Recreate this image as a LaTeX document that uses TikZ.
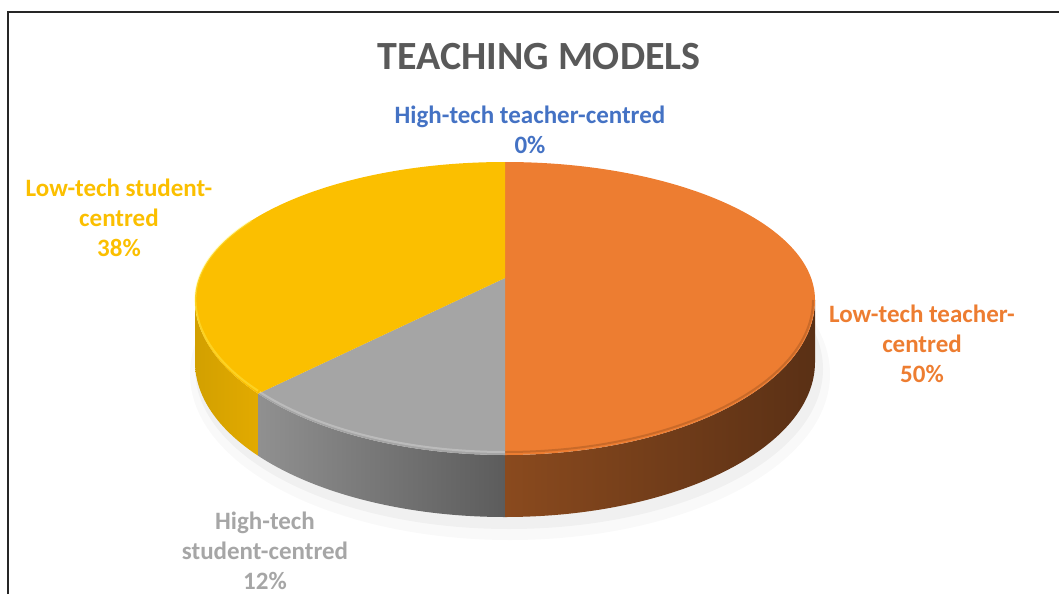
\documentclass[tikz,border=0pt]{standalone}
\usepackage{fontspec}
\setmainfont{Carlito}
\definecolor{orangeTop}{HTML}{ED7D31}
\definecolor{grayTop}{HTML}{A5A5A5}
\definecolor{yellowTop}{HTML}{FBBF00}
\definecolor{orangeSideL}{HTML}{8A4A1E}
\definecolor{orangeSideR}{HTML}{5A3015}
\definecolor{graySideL}{HTML}{909090}
\definecolor{graySideR}{HTML}{5C5C5C}
\definecolor{yellowSideL}{HTML}{D2A000}
\definecolor{yellowSideR}{HTML}{E2AA00}
\definecolor{titleGray}{HTML}{595959}
\definecolor{blueLbl}{HTML}{4472C4}
\definecolor{grayLbl}{HTML}{A6A6A6}
\begin{document}
\begin{tikzpicture}[x=1pt,y=-1pt,
  lbl/.style={font=\bfseries\fontsize{25}{30}\selectfont, align=center, anchor=base, inner sep=0pt},
  ttl/.style={font=\bfseries\fontsize{40}{48}\selectfont, text=titleGray, anchor=base, inner sep=0pt},
  rimL/.style={x radius=310, y radius=155},
  rimU/.style={x radius=310, y radius=138},
]
\useasboundingbox (0,0) rectangle (1059,594);
% frame
\draw[line width=2pt, black!85] (8,594) -- (8,12) -- (1059,12);
% title
\node[ttl] (title) at (539,69) {TEACHING MODELS};
% key points
\coordinate (apex) at (505,278);
\coordinate (top) at (505,162);
\coordinate (right) at (815,300);
\coordinate (left) at (195,300);
\coordinate (front) at (505,455);
\coordinate (split) at ([shift={(505,300)}]142.8:310 and 155);
% soft shadow
\fill[black, opacity=0.025] (510,374) ellipse [x radius=320, y radius=166];
\fill[black, opacity=0.035] (509,369) ellipse [x radius=314, y radius=160];
% sides
\shade[left color=yellowSideL, right color=yellowSideR]
  (split) arc[start angle=142.8, end angle=180, rimL] -- ++(0,62)
  arc[start angle=180, end angle=142.8, rimL] -- cycle;
\shade[left color=graySideL, right color=graySideR]
  (front) arc[start angle=90, end angle=142.8, rimL] -- ++(0,62)
  arc[start angle=142.8, end angle=90, rimL] -- cycle;
\shade[left color=orangeSideL, right color=orangeSideR]
  (right) arc[start angle=0, end angle=90, rimL] -- ++(0,62)
  arc[start angle=90, end angle=0, rimL] -- cycle;
% top faces
\fill[orangeTop] (apex) -- (top) arc[start angle=270, end angle=360, rimU]
  arc[start angle=0, end angle=90, rimL] -- cycle;
\fill[grayTop] (apex) -- (front) arc[start angle=90, end angle=142.8, rimL] -- cycle;
\fill[yellowTop] (apex) -- (split) arc[start angle=142.8, end angle=180, rimL]
  arc[start angle=180, end angle=270, rimU] -- cycle;
% rim highlights
\draw[white, opacity=0.25, line width=2pt] ([shift={(0,-3)}]front) arc[start angle=90, end angle=142.8, x radius=308, y radius=152];
\draw[black, opacity=0.15, line width=2pt] ([shift={(-2,0)}]right) arc[start angle=0, end angle=90, x radius=308, y radius=152];
\draw[yellow!60!white, opacity=0.35, line width=2pt] ([shift={(0,-3)}]split) arc[start angle=142.8, end angle=180, x radius=308, y radius=152] arc[start angle=180, end angle=215, x radius=308, y radius=136];
% labels (anchor = baseline of last line)
\node[lbl, text=blueLbl] (lHT) at (530,153) {High-tech teacher-centred\\0\%};
\node[lbl, text=yellowTop] (lLS) at (119,256) {Low-tech student-\\centred\\38\%};
\node[lbl, text=orangeTop] (lLT) at (922,382) {Low-tech teacher-\\centred\\50\%};
\node[lbl, text=grayLbl] (lHS) at (265,589) {High-tech\\student-centred\\12\%};
\end{tikzpicture}
\end{document}
